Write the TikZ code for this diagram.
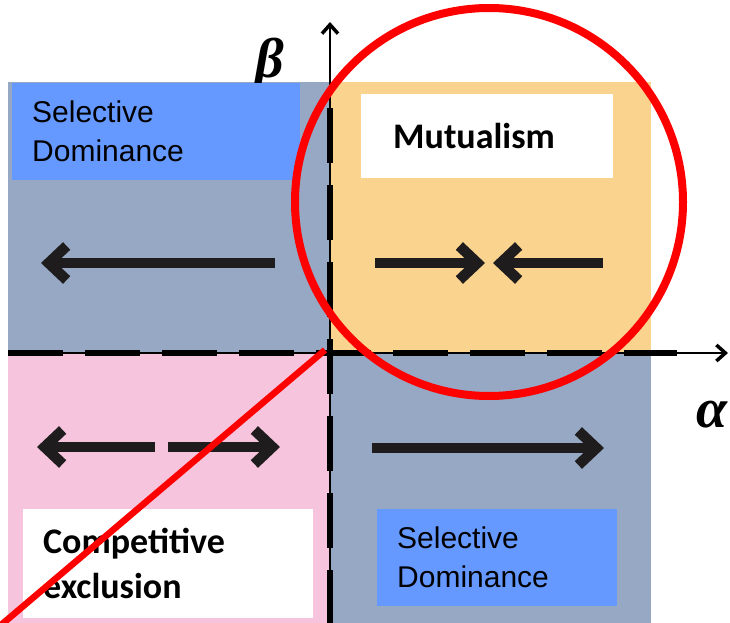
\documentclass[tikz,border=0pt]{standalone}
\usepackage{amsmath,amssymb}
\usepackage{fontspec}
\setmainfont{Liberation Sans}
\newfontfamily\calibri{Carlito}
\newfontfamily\greekserif{Liberation Serif}
\usetikzlibrary{arrows.meta}

\definecolor{quadgray}{RGB}{151,168,196}
\definecolor{quadorange}{RGB}{250,211,143}
\definecolor{quadpink}{RGB}{246,196,220}
\definecolor{boxblue}{RGB}{102,153,255}
\definecolor{flowblack}{RGB}{30,28,29}

\tikzset{
  flow/.style={line width=10.5pt,flowblack,-{Straight Barb[length=18pt,width=34pt]}},
  selbox/.style={fill=boxblue,anchor=north west,align=left,inner xsep=20pt,inner ysep=0pt,
    font=\fontsize{30}{39}\selectfont},
  whitebox/.style={fill=white,anchor=north west,align=left,inner ysep=0pt,
    font=\calibri\bfseries\fontsize{36}{45}\selectfont},
  axisline/.style={line width=2pt,-{Straight Barb[length=9pt,width=16pt,line width=3.5pt]}},
  axisdash/.style={line width=6.5pt,dash pattern=on 55pt off 22pt},
  redmark/.style={red,line width=8pt},
  greeklabel/.style={font=\greekserif\bfseries\itshape\fontsize{56}{60}\selectfont,anchor=base,inner sep=0pt},
}

\begin{document}
\begin{tikzpicture}[x=1pt,y=-1pt]
  \useasboundingbox (0,0) rectangle (730,623);
  \coordinate (O) at (330,353);
  % quadrants
  \fill[quadgray] (8,82) rectangle (O);
  \fill[quadorange] (O) rectangle (651,82);
  \fill[quadpink] (8,623) rectangle (O);
  \fill[quadgray] (O) rectangle (651,623);
  \node[greeklabel] (beta) at (270,78) {β};

  % axes
  \coordinate (ytop) at (330,22);
  \coordinate (ybot) at (330,623);
  \coordinate (xleft) at (8,353);
  \coordinate (xright) at (728,353);
  \draw[axisline] (ybot) -- (ytop);
  \draw[axisline] (xleft) -- (xright);
  \draw[axisdash] (330,108) -- (ybot);
  \draw[axisdash] (xleft) -- (677,353);

  % flow arrows
  \draw[flow] (275,263) -- (41,263);
  \draw[flow] (375,263) -- (485,263);
  \draw[flow] (603,263) -- (493,263);
  \draw[flow] (155,447) -- (37,447);
  \draw[flow] (168,447) -- (280,447);
  \draw[flow] (372,448) -- (604,448);

  % region labels
  \node[selbox,text width=248pt,minimum height=97pt] (selTop) at (12,83) {Selective\\Dominance};
  \node[whitebox,inner xsep=32pt,text width=188pt,minimum height=84pt] (mutual) at (361,94) {Mutualism};
  \node[whitebox,inner xsep=20pt,text width=250pt,minimum height=109pt] (compEx) at (23,509) {Competitive\\exclusion};
  \node[selbox,text width=200pt,minimum height=97pt] (selBot) at (377,509) {Selective\\Dominance};

  % red marks
  \coordinate (redA) at (325,350);
  \coordinate (redB) at (1,625);
  \draw[redmark,line width=6.5pt] (redA) -- (redB);
  \draw[redmark] (489,202) circle (194pt);
  \node[greeklabel] (alpha) at (712,427) {α};
\end{tikzpicture}
\end{document}
